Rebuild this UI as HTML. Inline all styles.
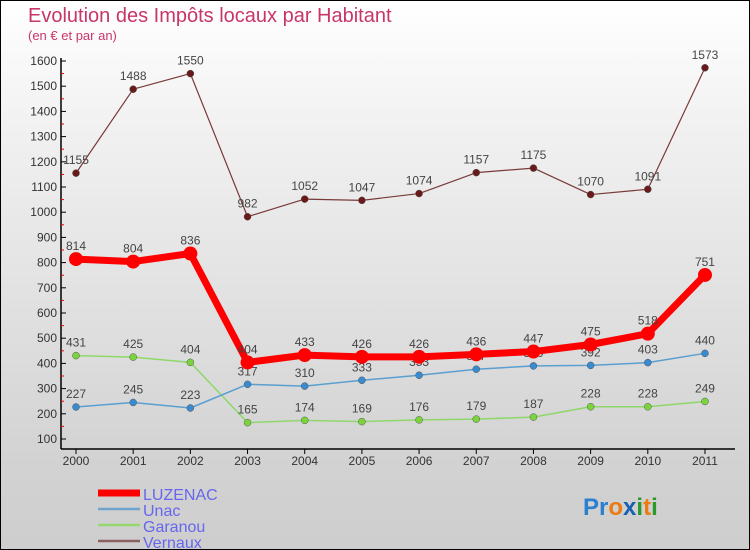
<!DOCTYPE html>
<html><head><meta charset="utf-8"><style>
body{margin:0}
#c{width:750px;height:550px;position:relative;box-sizing:border-box;border:1px solid #000;background:linear-gradient(#fff,#f0f0f0 25%,#d2d2d2 85%,#cecece);font-family:"Liberation Sans",sans-serif;overflow:hidden}
.t{position:absolute;left:27px;top:4px;color:#c8356a;font-size:20px}
.s{position:absolute;left:27px;top:27px;color:#c8356a;font-size:13px}
</style></head><body>
<div id="c">
<div class="t">Evolution des Impôts locaux par Habitant</div>
<div class="s">(en € et par an)</div>
<svg id="g" width="750" height="550" style="position:absolute;left:-1px;top:-1px"></svg>
</div>
<script>
const years=["2000","2001","2002","2003","2004","2005","2006","2007","2008","2009","2010","2011"];
const yTicks=[100,200,300,400,500,600,700,800,900,1000,1100,1200,1300,1400,1500,1600];
const luzenac=[814,804,836,404,433,426,426,436,447,475,518,751];
const unac=[227,245,223,317,310,333,353,377,390,392,403,440];
const garanou=[431,425,404,165,174,169,176,179,187,228,228,249];
const vernaux=[1155,1488,1550,982,1052,1047,1074,1157,1175,1070,1091,1573];
const NS="http://www.w3.org/2000/svg",g=document.getElementById('g');
const X=i=>76+i*57.18, Y=v=>439-(v-100)*0.252;
function mk(t,a,p){const e=document.createElementNS(NS,t);for(const k in a)e.setAttribute(k,a[k]);(p||g).appendChild(e);return e;}
// axes
let ax=mk('line',{x1:61,y1:58,x2:61,y2:449,stroke:'#000','stroke-width':1.5});

let bx=mk('line',{x1:61,y1:449,x2:735,y2:449,stroke:'#000','stroke-width':1.5});

yTicks.forEach(v=>{mk('line',{x1:61,y1:Y(v),x2:66,y2:Y(v),stroke:'#000'});
 if(v<1600)mk('line',{x1:61,y1:Y(v+50),x2:64,y2:Y(v+50),stroke:'#e00'});
 const t=mk('text',{x:57,y:Y(v)+4,'text-anchor':'end','font-size':12,fill:'#333'});t.textContent=v;
 });
years.forEach((y,i)=>{mk('line',{x1:X(i),y1:449,x2:X(i),y2:454,stroke:'#000'});
 const t=mk('text',{x:X(i),y:465,'text-anchor':'middle','font-size':12,fill:'#333'});t.textContent=y;
 });
function series(d,col,dot,w,r,name){
 const p=mk('polyline',{points:d.map((v,i)=>X(i)+','+Y(v)).join(' '),fill:'none',stroke:col,'stroke-width':w,'stroke-linejoin':'round'});
 
 d.forEach((v,i)=>{const c=mk('circle',{cx:X(i),cy:Y(v),r:r,fill:dot,stroke:w>3?'none':'#555','stroke-width':0.5});
  
  const t=mk('text',{x:X(i),y:Y(v)-9,'text-anchor':'middle','font-size':12,fill:'#444'});t.textContent=v;
  });
}
series(garanou,'#8ed86a','#7cd43c',1.5,3.5,'garanou');
series(unac,'#5a9fd0','#3a8ad0',1.5,3.5,'unac');
series(vernaux,'#7a3a3a','#6a1a1a',1.2,3.5,'vernaux');
series(luzenac,'#f00','#f00',7,7,'luzenac');
// legend
const leg=[['LUZENAC','#f00',7],['Unac','#6fa4cc',2.5],['Garanou','#96d86e',2.5],['Vernaux','#8a6060',2.5]];
leg.forEach((l,i)=>{const y=493+i*16;
 const ln=mk('line',{x1:98,y1:y,x2:140,y2:y,stroke:l[1],'stroke-width':l[2]});
 
 const t=mk('text',{x:143,y:y+7,'font-size':16,fill:'#6666ee'});t.textContent=l[0];
 });
const lg=mk('text',{x:583,y:515,'font-size':24,'font-weight':'bold'});

[['Pr','#2a7fd0'],['o','#ee7a10'],['x','#1a5fb0'],['i','#2a9a2a'],['t','#ee7a10'],['i','#2a9a2a']].forEach(a=>{const s=mk('tspan',{fill:a[1]},lg);s.textContent=a[0];});
</script>
</body></html>
